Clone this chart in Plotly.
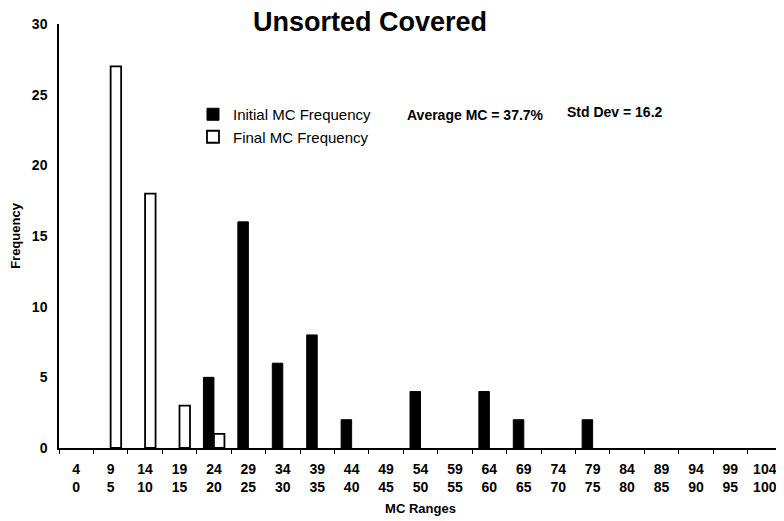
import plotly.graph_objects as go

lower = list(range(0, 101, 5))
upper = [v + 4 for v in lower]
categories = [f"{u}<br>{l}" for u, l in zip(upper, lower)]

initial_bins = [20, 25, 30, 35, 40, 50, 60, 65, 75]
initial_freq = [5, 16, 6, 8, 2, 4, 4, 2, 2]
final_bins = [5, 10, 15, 20]
final_freq = [27, 18, 3, 1]

init_map = dict(zip(initial_bins, initial_freq))
final_map = dict(zip(final_bins, final_freq))
initial_y = [init_map.get(l) for l in lower]
final_y = [final_map.get(l) for l in lower]

FONT = "Liberation Sans, Arial, sans-serif"
OFF = 8  # page body margin
W, H = 784 - OFF, 521 - OFF
L, R, T, B = 59 - OFF, 2, 24 - OFF, 73
PW, PH = W - L - R, H - T - B


def px_x(x):
    return (x - OFF - L) / PW


def px_y(y):
    return (H - B - (y - OFF)) / PH


fig = go.Figure()
fig.add_trace(go.Bar(x=categories, y=initial_y, name="Initial MC Frequency",
                     marker=dict(color="black", line=dict(color="black", width=1))))
fig.add_trace(go.Bar(x=categories, y=final_y, name="Final MC Frequency",
                     marker=dict(color="white", line=dict(color="black", width=1.8))))

fig.update_layout(
    width=W, height=H,
    paper_bgcolor="white", plot_bgcolor="white",
    barmode="group", bargap=0.39, bargroupgap=0,
    margin=dict(l=L, r=R, t=T, b=B, autoexpand=False),
    font=dict(family=FONT, color="black"),
    title=dict(text="<b>Unsorted Covered</b>", x=(370 - OFF) / W, xanchor="center",
               y=1.0, yanchor="top", pad=dict(t=4, b=0),
               font=dict(size=27, family=FONT)),
    legend=dict(x=px_x(193), y=px_y(98), xanchor="left", yanchor="top",
                bgcolor="rgba(0,0,0,0)", font=dict(size=15, family=FONT),
                tracegroupgap=0),
)
fig.add_annotation(text="<b>Average MC = 37.7%</b>", xref="paper", yref="paper",
                   x=px_x(405), y=px_y(115), xanchor="left", yanchor="middle",
                   showarrow=False, font=dict(size=14, family=FONT))
fig.add_annotation(text="<b>Std Dev = 16.2</b>", xref="paper", yref="paper",
                   x=px_x(565), y=px_y(112), xanchor="left", yanchor="middle",
                   showarrow=False, font=dict(size=14, family=FONT))

fig.update_xaxes(
    type="category", showline=True, linecolor="black", linewidth=1.5,
    ticks="outside", tickson="boundaries", ticklen=4, tickcolor="black", tickwidth=1,
    showgrid=False, tickfont=dict(size=14, family=FONT), automargin=False,
    ticklabelstandoff=7, tickprefix="<b>", ticksuffix="</b>",
    title=dict(text="<b>MC Ranges</b>", font=dict(size=13, family=FONT), standoff=10),
)
fig.update_yaxes(
    range=[0, 30], dtick=5, showline=True, linecolor="black", linewidth=1.5,
    showgrid=False, zeroline=False, ticks="", tickfont=dict(size=14, family=FONT),
    tickformat="d", tickprefix="<b>", ticksuffix="</b>", ticklabelstandoff=7,
    automargin=False,
    title=dict(text="<b>Frequency</b>", font=dict(size=13, family=FONT), standoff=14),
)

fig.write_html("out.html")
